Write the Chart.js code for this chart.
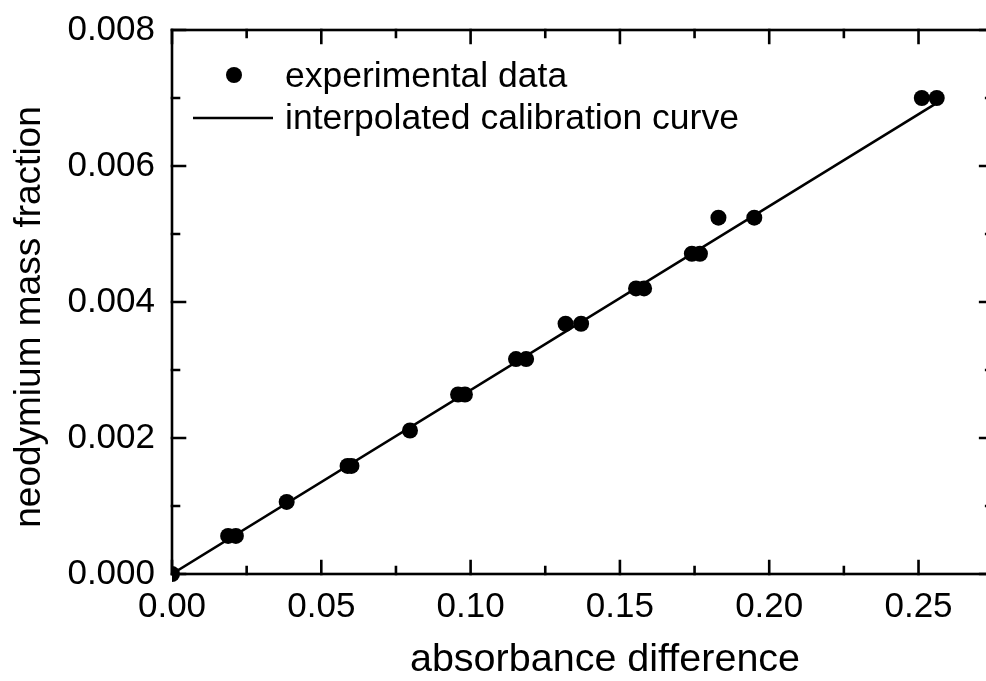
<!DOCTYPE html>
<html>
<head>
<meta charset="utf-8">
<script src="https://cdn.jsdelivr.net/npm/chart.js@4/dist/chart.umd.min.js"></script>
<style>
  html, body { margin: 0; padding: 0; background: #ffffff; }
  #wrap { width: 986px; height: 681px; overflow: hidden; }
  canvas { display: block; }
</style>
</head>
<body>
<div id="wrap"><canvas id="c" width="986" height="681"></canvas></div>
<script>
// ---- data ----
const absorbanceDiff = [0.0, 0.0188, 0.0214, 0.0384, 0.0588, 0.0601, 0.0797, 0.0958, 0.0981, 0.1152, 0.1186,
                        0.1318, 0.1370, 0.1554, 0.1581, 0.1741, 0.1768, 0.1830, 0.1950, 0.2511, 0.2561];
const massFraction   = [0.0, 0.00056, 0.00056, 0.00106, 0.00159, 0.00159, 0.00211, 0.00264, 0.00264, 0.00316, 0.00316,
                        0.00368, 0.00368, 0.00420, 0.00420, 0.00471, 0.00471, 0.00524, 0.00524, 0.00700, 0.00700];
const curveX = [0.0, 0.2555];
const curveY = [0.0, 0.00691];
const xTickValues = [0.00, 0.05, 0.10, 0.15, 0.20, 0.25];
const yTickValues = [0.000, 0.002, 0.004, 0.006, 0.008];
const xView = [0, 0.2726];      // visible part of the x axis (frame is cut at the right edge)
const xFrame = [0, 0.275];      // full x extent of the plot frame
const yRange = [0, 0.008];
const seriesLabels = ['experimental data', 'interpolated calibration curve'];
const axisTitles = ['absorbance difference', 'neodymium mass fraction'];

const FONT = "'Liberation Sans', Arial, sans-serif";

const framePlugin = {
  id: 'frame',
  beforeDraw(chart) {
    // shift title centres to match the reference placement
    const xs = chart.scales.x, ys = chart.scales.y;
    xs.right = xs.right + 52;
    ys.bottom = ys.bottom + 30;
  },
  afterDatasetsDraw(chart) {
    const ctx = chart.ctx;
    const xs = chart.scales.x, ys = chart.scales.y;
    const L = xs.getPixelForValue(xFrame[0]), R = xs.getPixelForValue(xFrame[1]);
    const B = ys.getPixelForValue(yRange[0]), T = ys.getPixelForValue(yRange[1]);
    ctx.save();
    ctx.strokeStyle = '#000';
    ctx.lineWidth = 2.6;
    ctx.lineCap = 'square';
    ctx.strokeRect(L, T, R - L, B - T);
    const major = 13, minor = 7;
    const xStep = xTickValues[1] - xTickValues[0];
    for (let i = 0; i < xTickValues.length; i++) {
      const vals = [[xTickValues[i], major], [xTickValues[i] + xStep / 2, minor]];
      for (const [v, len] of vals) {
        if (v > xFrame[1] + 1e-9) continue;
        const px = xs.getPixelForValue(v);
        ctx.beginPath();
        ctx.moveTo(px, B); ctx.lineTo(px, B - len);
        ctx.moveTo(px, T); ctx.lineTo(px, T + len);
        ctx.stroke();
      }
    }
    const yStep = yTickValues[1] - yTickValues[0];
    for (let i = 0; i < yTickValues.length; i++) {
      const vals = [[yTickValues[i], major], [yTickValues[i] + yStep / 2, minor]];
      for (const [v, len] of vals) {
        if (v > yRange[1] + 1e-9) continue;
        const py = ys.getPixelForValue(v);
        ctx.beginPath();
        ctx.moveTo(L, py); ctx.lineTo(L + len, py);
        ctx.moveTo(R, py); ctx.lineTo(R - len, py);
        ctx.stroke();
      }
    }
    ctx.restore();
  }
};

const legendPlugin = {
  id: 'customLegend',
  afterDraw(chart) {
    const ctx = chart.ctx;
    const ds = chart.data.datasets;
    ctx.save();
    ctx.fillStyle = '#000';
    ctx.strokeStyle = '#000';
    ctx.beginPath();
    ctx.arc(234, 75, 8, 0, Math.PI * 2);
    ctx.fill();
    ctx.lineWidth = 2.6;
    ctx.beginPath();
    ctx.moveTo(193, 118); ctx.lineTo(273, 118);
    ctx.stroke();
    ctx.font = '35.5px ' + FONT;
    ctx.textAlign = 'left';
    ctx.textBaseline = 'alphabetic';
    ctx.fillText(ds[0].label, 285, 87);
    ctx.fillText(ds[1].label, 285, 129);
    ctx.restore();
  }
};

new Chart(document.getElementById('c'), {
  type: 'scatter',
  data: {
    datasets: [
      {
        label: seriesLabels[0],
        data: absorbanceDiff.map((x, i) => ({ x: x, y: massFraction[i] })),
        backgroundColor: '#000',
        borderColor: '#000',
        pointRadius: 8,
        pointBorderWidth: 0,
        showLine: false,
        clip: 0,
        order: 1
      },
      {
        label: seriesLabels[1],
        data: curveX.map((x, i) => ({ x: x, y: curveY[i] })),
        borderColor: '#000',
        borderWidth: 2.6,
        pointRadius: 0,
        showLine: true,
        fill: false,
        clip: 0,
        order: 2
      }
    ]
  },
  options: {
    responsive: false,
    animation: false,
    events: [],
    layout: { autoPadding: false, padding: { left: 0, top: 30, right: 0, bottom: 0 } },
    plugins: { legend: { display: false }, tooltip: { enabled: false } },
    scales: {
      x: {
        type: 'linear',
        min: xView[0], max: xView[1],
        afterFit(s) { s.height = 107; s.paddingLeft = 0; s.paddingRight = 0; s.paddingTop = 0; s.paddingBottom = 0; },
        afterBuildTicks(s) { s.ticks = xTickValues.map(v => ({ value: v })); },
        grid: { display: false, drawTicks: false },
        border: { display: false },
        ticks: {
          color: '#000',
          font: { family: FONT, size: 35 },
          padding: 12,
          maxRotation: 0,
          autoSkip: false,
          callback: v => Number(v).toFixed(2)
        },
        title: {
          display: true,
          text: axisTitles[0],
          color: '#000',
          font: { family: FONT, size: 39.5, lineHeight: 1 },
          padding: { top: 0, bottom: 1.5 }
        }
      },
      y: {
        type: 'linear',
        min: yRange[0], max: yRange[1],
        afterFit(s) { s.width = 172; s.paddingTop = 0; s.paddingBottom = 0; s.paddingLeft = 0; s.paddingRight = 0; },
        afterBuildTicks(s) { s.ticks = yTickValues.map(v => ({ value: v })); },
        grid: { display: false, drawTicks: false },
        border: { display: false },
        ticks: {
          color: '#000',
          font: { family: FONT, size: 35 },
          padding: 17,
          autoSkip: false,
          callback: v => Number(v).toFixed(3)
        },
        title: {
          display: true,
          text: axisTitles[1],
          color: '#000',
          font: { family: FONT, size: 37, lineHeight: 1 },
          padding: { top: 11.5, bottom: 0 }
        }
      }
    }
  },
  plugins: [framePlugin, legendPlugin]
});
</script>
</body>
</html>
